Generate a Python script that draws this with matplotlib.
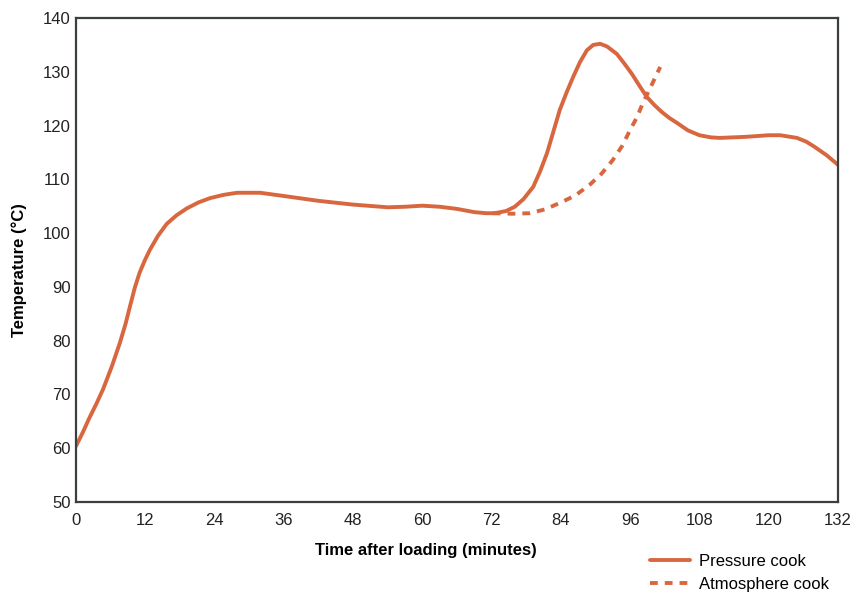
import matplotlib.pyplot as plt

# pressure cook (solid)
pressure_min = [0, 1.2, 2.3, 3.5, 4.7, 6.2, 7.6, 8.6, 9.4, 10.2, 11.0, 11.9,
                12.8, 14.2, 15.7, 17.4, 19.2, 21.2, 23.2, 25.5, 27.9, 31.9, 36,
                42, 48, 54, 57, 60, 63, 66, 69, 71, 72.5, 74.5, 76, 77.5, 79.2,
                80.4, 81.6, 82.7, 83.8, 85, 86.1, 87.3, 88.5, 89.6, 90.8, 92,
                93.7, 95, 96.3, 97.6, 98.9, 100.2, 101.5, 102.8, 104.1, 106,
                108, 110, 111.5, 116, 120, 122, 124.9, 126.5, 128, 130, 132]
pressure_temp = [60.4, 63.0, 65.6, 68.2, 71.0, 75.2, 79.6, 83.2, 86.6, 89.9,
                 92.6, 94.9, 96.9, 99.5, 101.7, 103.3, 104.6, 105.7, 106.5,
                 107.1, 107.5, 107.5, 106.9, 106.0, 105.3, 104.8, 104.9, 105.1,
                 104.9, 104.5, 103.9, 103.7, 103.7, 104.1, 104.9, 106.3, 108.6,
                 111.5, 114.9, 118.9, 122.9, 126.2, 129.0, 131.8, 134.0, 135.0,
                 135.2, 134.7, 133.3, 131.5, 129.6, 127.4, 125.3, 123.8, 122.5,
                 121.4, 120.5, 119.1, 118.2, 117.8, 117.7, 117.9, 118.2, 118.2,
                 117.7, 117.0, 116.0, 114.5, 112.7]

# atmosphere cook (dotted), branches off near 72 min
atmos_min = [72.2, 75.5, 78.6, 81.2, 83.8, 86.5, 89, 91, 93, 94.6, 96, 97.2,
             98.2, 99.7, 101.2]
atmos_temp = [103.7, 103.6, 103.7, 104.4, 105.6, 107.0, 109.0, 111.0, 113.6,
              116.2, 119.2, 121.6, 124.2, 127.5, 130.9]

x_ticks = list(range(0, 133, 12))
y_ticks = list(range(50, 141, 10))

line_color = "#d8673f"

plt.rcParams["font.family"] = ["Liberation Sans", "DejaVu Sans"]

fig = plt.figure(figsize=(8.58, 5.94), dpi=100)
ax = fig.add_axes([0.0886, 0.1549, 0.8881, 0.8148])

ax.plot(pressure_min, pressure_temp, color=line_color, lw=2.8,
        solid_capstyle="round", solid_joinstyle="round", label="Pressure cook")
ax.plot(atmos_min, atmos_temp, color=line_color, lw=2.8,
        linestyle=(0, (2.0, 1.8)), dash_capstyle="butt", label="Atmosphere cook")

ax.set_xlim(0, 132)
ax.set_ylim(50, 140)
ax.set_xticks(x_ticks)
ax.set_yticks(y_ticks)
ax.tick_params(length=0, labelsize=12, colors="#222222")
ax.tick_params(axis="x", pad=8)
ax.tick_params(axis="y", pad=4)

for s in ax.spines.values():
    s.set_color("#3a3f40")
    s.set_linewidth(1.6)

ax.set_xlabel("Time after loading (minutes)", fontsize=12, fontweight="bold")
ax.xaxis.set_label_coords(0.459, -0.085)
ax.set_ylabel("Temperature (°C)", fontsize=12, fontweight="bold")
ax.yaxis.set_label_coords(-0.064, 0.48)

# legend sits below the plot at the lower right (the reference crops it a bit)
fig.legend(loc="upper left", bbox_to_anchor=(0.758, 0.068), frameon=False,
           fontsize=12, handlelength=2.4, handletextpad=0.5, labelspacing=0.5,
           borderaxespad=0, borderpad=0)

fig.savefig("out.png", dpi=100)
